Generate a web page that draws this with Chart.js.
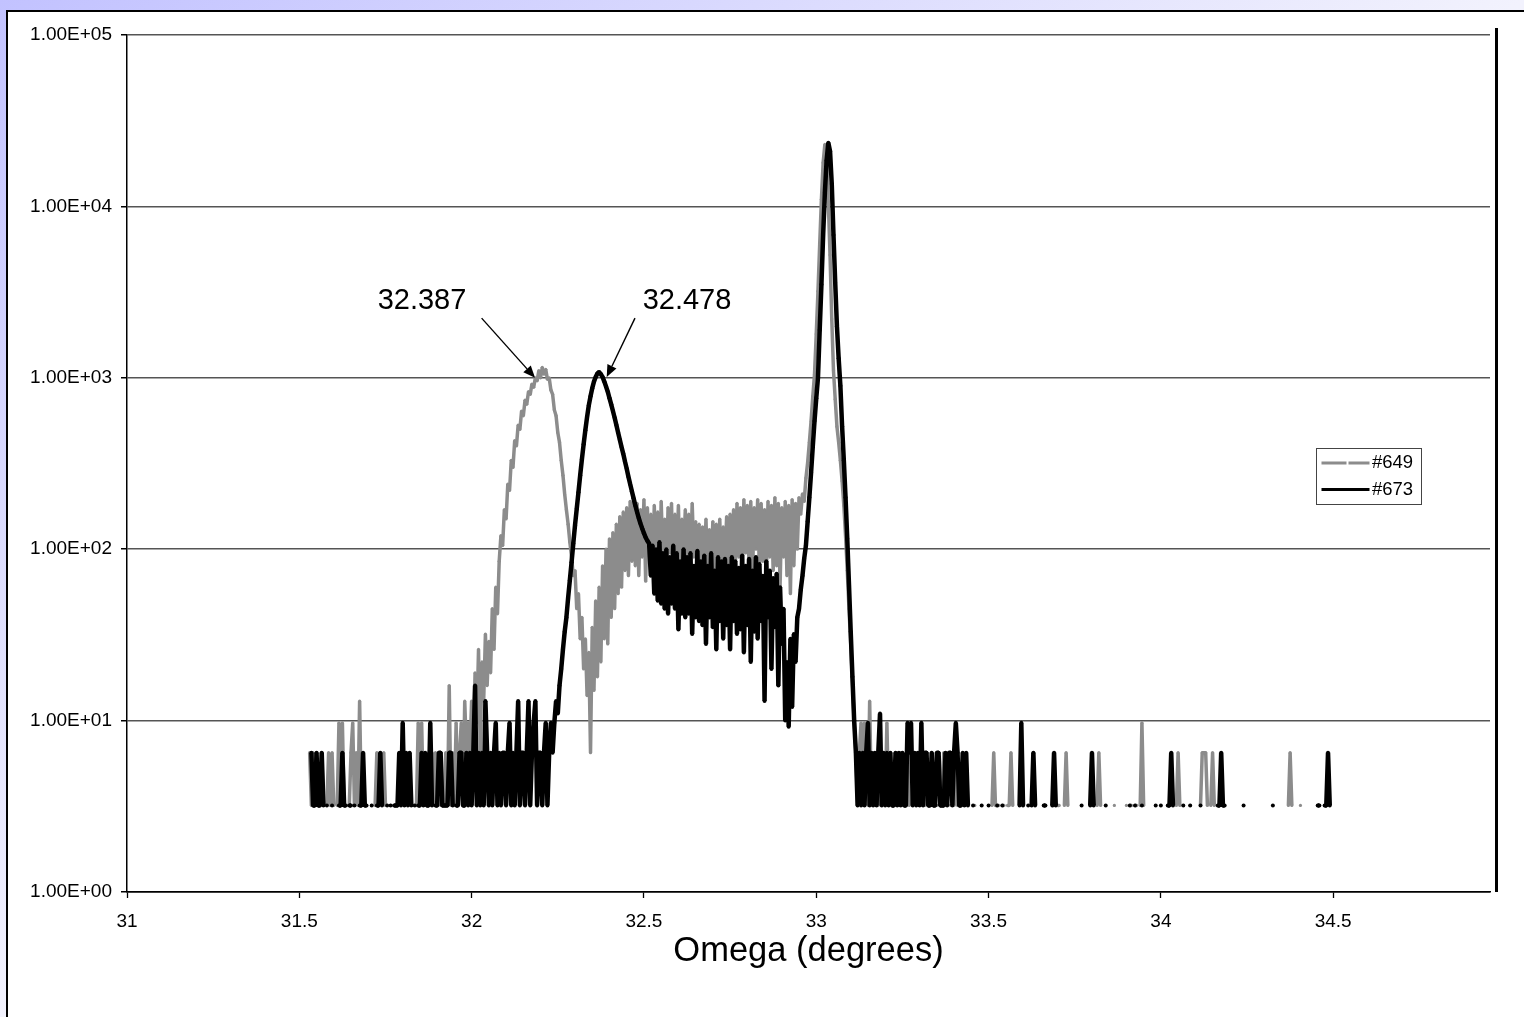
<!DOCTYPE html>
<html>
<head>
<meta charset="utf-8">
<title>Omega scan #649 / #673</title>
<script src="https://cdn.jsdelivr.net/npm/chart.js@4.4.1/dist/chart.umd.min.js"></script>
<style>
  html, body { margin: 0; padding: 0; width: 1524px; height: 1017px; overflow: hidden; }
  body { position: relative; background: linear-gradient(to bottom right, #c2c2ff 0%, #f2f2fd 50%, #ffffff 100%); }
  #frame { position: absolute; left: 6px; top: 10px; width: 1530px; height: 1020px; background: #fff;
           border-left: 2.5px solid #000; border-top: 2.5px solid #000; }
  #rule { position: absolute; left: 1495px; top: 28px; width: 2.5px; height: 864px; background: #000; }
  #wrap { position: absolute; left: 0; top: 0; width: 1524px; height: 1017px; }
</style>
</head>
<body>
<div id="frame"></div>
<div id="rule"></div>
<div id="wrap"><canvas id="omegachart"></canvas></div>
<script>
// scan grid: 31.530 .. 34.490 deg, 0.005 deg per step
const omegaStart = 31.53;
const omegaStep = 0.005;

// normalised intensity per step, 0 = no counts (not shown on the log axis)
const s649 = [
  6.5,3.2,6.5,3.2,0,0,3.2,6.5,3.2,0, 3.2,6.5,3.2,6.5,3.2,0,3.2,9.7,3.2,9.7,
  3.2,0,0,3.2,6.5,9.7,3.2,6.5,3.2,13, 3.2,0,0,3.2,0,0,3.2,0,3.2,6.5,
  3.2,0,3.2,6.5,3.2,0,0,3.2,0,0, 3.2,0,0,3.2,0,3.2,0,0,3.2,0,
  3.2,0,3.2,9.7,3.2,9.7,3.2,6.5,3.2,6.5, 3.2,6.5,3.2,6.5,3.2,6.5,3.2,0,3.2,6.5,
  3.2,16,3.2,6.5,3.2,9.7,3.2,6.5,9.7,3.2, 13,6.5,9.7,6.5,13,6.5,19,9.7,26,6.5,
  22,13,32,16,29,19,45,26,60,42, 85,120,105,170,150,240,220,330,300,430,
  400,530,500,640,600,740,700,830,800,920, 880,1000,960,1100,1000,1150,1050,1120,980,1000,
  850,800,650,600,480,420,330,270,210,170, 140,110,90,70,75,45,55,30,40,20,
  30,14,25,6.5,35,15,50,18,60,22, 80,30,100,28,115,40,125,45,140,55,
  155,60,165,75,175,70,190,85,200,80, 185,70,170,90,195,65,175,95,160,70,
  180,80,165,65,190,90,150,70,175,95, 185,65,160,85,180,70,150,95,170,65,
  160,80,185,90,145,70,140,60,135,75, 150,65,130,80,145,60,140,75,150,70,
  135,85,155,65,160,80,170,75,185,90, 175,70,195,95,180,80,190,70,175,100,
  195,75,185,85,170,65,190,90,180,75, 200,80,185,60,175,90,190,70,180,55,
  195,80,185,100,200,160,210,190,260,320, 420,560,780,1050,1800,3200,6000,11000,18000,23000,
  18500,10500,5200,2200,1100,750,520,420,330,250, 180,120,75,45,28,17,10,6.5,3.2,6.5,
  9.7,3.2,9.7,6.5,3.2,13,3.2,6.5,3.2,6.5, 3.2,0,3.2,6.5,3.2,9.7,3.2,6.5,3.2,0,
  3.2,6.5,3.2,6.5,3.2,0,3.2,6.5,3.2,0, 3.2,0,6.5,3.2,0,3.2,6.5,3.2,0,0,
  3.2,6.5,3.2,0,3.2,0,0,3.2,6.5,3.2, 0,0,3.2,0,3.2,6.5,3.2,0,0,3.2,
  0,0,3.2,0,0,0,3.2,0,0,0, 3.2,0,0,0,0,0,3.2,6.5,3.2,3.2,
  3.2,0,3.2,3.2,0,3.2,3.2,6.5,3.2,0, 0,0,0,0,3.2,0,0,0,0,0,
  0,0,0,0,0,0,0,0,0,0, 0,3.2,3.2,0,3.2,3.2,0,0,3.2,6.5,
  3.2,0,0,0,0,0,0,0,0,0, 0,0,0,0,0,0,0,3.2,6.5,3.2,
  0,0,0,0,0,0,0,3.2,0,0, 0,0,0,0,3.2,0,3.2,3.2,0,3.2,
  3.2,0,3.2,9.7,3.2,0,0,0,0,0, 0,0,0,0,0,0,0,0,0,0,
  0,0,0,3.2,6.5,3.2,0,0,0,0, 0,3.2,0,0,0,0,0,3.2,6.5,6.5,
  6.5,3.2,0,3.2,6.5,3.2,0,0,0,0, 0,0,0,0,0,0,0,0,0,0,
  0,0,0,0,0,0,0,0,0,0, 0,0,0,0,0,0,0,0,0,0,
  0,0,0,0,0,0,0,0,3.2,6.5, 3.2,0,0,0,0,3.2,0,0,0,0,
  0,0,0,0,0,0,0,0,0,0, 0,0,0
];

const s673 = [
  0,6.5,3.2,3.2,6.5,3.2,3.2,6.5,3.2,0, 3.2,0,0,3.2,0,0,0,3.2,3.2,6.5,
  3.2,3.2,0,3.2,3.2,0,3.2,0,0,3.2, 3.2,6.5,3.2,3.2,0,0,3.2,0,0,3.2,
  3.2,6.5,3.2,0,0,3.2,0,3.2,0,3.2, 3.2,3.2,6.5,3.2,9.7,3.2,6.5,3.2,6.5,3.2,
  0,3.2,0,3.2,3.2,6.5,3.2,6.5,3.2,3.2, 9.7,3.2,0,3.2,3.2,6.5,6.5,3.2,3.2,3.2,
  3.2,6.5,6.5,3.2,0,3.2,3.2,6.5,6.5,3.2, 3.2,6.5,3.2,6.5,3.2,6.5,16,3.2,6.5,3.2,
  6.5,3.2,13,6.5,3.2,6.5,3.2,6.5,9.7,3.2, 6.5,3.2,6.5,6.5,3.2,6.5,9.7,3.2,6.5,3.2,
  6.5,13,3.2,6.5,6.5,3.2,6.5,13,3.2,6.5, 9.7,13,3.2,6.5,6.5,3.2,6.5,9.7,3.2,6.5,
  9.7,6.5,9.7,13,11,16,20,26,33,40, 52,66,84,108,138,172,215,270,335,410,
  495,590,690,780,870,950,1010,1060,1080,1050, 1010,950,890,830,760,700,640,585,530,480,
  435,395,360,325,295,265,240,218,198,180, 165,152,141,132,124,117,112,108,70,105,
  55,100,50,110,48,95,45,100,42,90, 48,105,45,95,34,85,42,100,40,90,
  42,95,32,80,40,98,38,85,36,92, 28,80,40,95,35,75,26,90,38,85,
  30,88,36,80,26,90,38,85,32,78, 34,92,25,80,36,88,22,75,33,90,
  30,82,38,70,13,85,40,75,20,68, 35,72,16,60,28,45,10,22,9.2,30,
  12,32,22,40,45,58,70,88,105,145, 200,280,400,560,760,1000,1900,3500,6800,12000,
  18500,23500,21000,13500,6800,3600,2000,1300,900,520, 330,200,115,62,33,18,10,6.5,3.2,6.5,
  3.2,6.5,3.2,6.5,9.7,3.2,6.5,3.2,6.5,3.2, 6.5,11,3.2,6.5,3.2,6.5,3.2,6.5,3.2,3.2,
  6.5,3.2,6.5,3.2,6.5,3.2,3.2,9.7,6.5,9.7, 3.2,6.5,3.2,6.5,3.2,9.7,3.2,6.5,6.5,3.2,
  3.2,6.5,3.2,3.2,6.5,6.5,3.2,3.2,3.2,6.5, 3.2,6.5,6.5,3.2,6.5,9.7,6.5,3.2,3.2,6.5,
  3.2,6.5,3.2,0,0,3.2,0,0,0,0, 3.2,0,0,0,3.2,0,0,0,0,3.2,
  0,0,3.2,0,0,0,0,0,0,0, 0,0,3.2,9.7,3.2,0,0,3.2,0,3.2,
  6.5,3.2,0,0,0,0,3.2,3.2,0,0, 0,3.2,6.5,3.2,0,0,0,0,0,0,
  0,0,0,0,0,0,0,0,3.2,0, 0,0,0,3.2,6.5,3.2,0,0,0,0,
  0,0,3.2,0,0,0,0,0,0,0, 0,0,0,0,0,0,3.2,0,0,3.2,
  0,0,0,3.2,0,0,0,0,0,0, 0,3.2,0,0,3.2,0,0,0,3.2,3.2,
  6.5,3.2,0,0,0,0,0,3.2,0,0, 0,3.2,0,0,0,0,0,3.2,0,0,
  0,0,0,0,0,0,0,3.2,3.2,6.5, 3.2,3.2,0,0,0,0,0,0,0,0,
  0,0,3.2,0,0,0,0,0,0,0, 0,0,0,0,0,0,0,0,0,3.2,
  0,0,0,0,0,0,0,0,0,0, 0,0,0,0,0,0,0,0,0,0,
  0,0,0,0,0,3.2,3.2,0,0,3.2, 3.2,6.5,3.2
];

const seriesNames = ['#649', '#673'];
const xTicks = [31, 31.5, 32, 32.5, 33, 33.5, 34, 34.5];
const yTicks = [1, 10, 100, 1000, 10000, 100000];

// peak callouts, in axis units: label centre, arrow tail, arrow tip
const callouts = [
  { text: '32.387', at: [31.856, 2800], from: [32.029, 2230], to: [32.184, 1000] },
  { text: '32.478', at: [32.625, 2800], from: [32.474, 2230], to: [32.392, 1010] }
];

const FONT = 'Arial, "Liberation Sans", sans-serif';

function toPoints(vals) {
  return vals.map((v, i) => ({
    x: +(omegaStart + i * omegaStep).toFixed(3),
    y: v > 0 ? v : null
  }));
}

function sciLabel(v) {
  const [m, e] = Number(v).toExponential(2).split('e');
  const n = parseInt(e, 10);
  return m + 'E' + (n < 0 ? '-' : '+') + String(Math.abs(n)).padStart(2, '0');
}

const overlays = {
  id: 'overlays',
  afterDatasetsDraw(chart) {
    const { ctx, chartArea, scales: { x, y } } = chart;
    ctx.save();

    // callout labels with arrows
    ctx.fillStyle = '#000';
    ctx.strokeStyle = '#000';
    ctx.font = '29px ' + FONT;
    ctx.textAlign = 'center';
    ctx.textBaseline = 'middle';
    callouts.forEach(c => {
      ctx.fillText(c.text, x.getPixelForValue(c.at[0]), y.getPixelForValue(c.at[1]));
      const x0 = x.getPixelForValue(c.from[0]), y0 = y.getPixelForValue(c.from[1]);
      const x1 = x.getPixelForValue(c.to[0]), y1 = y.getPixelForValue(c.to[1]);
      const a = Math.atan2(y1 - y0, x1 - x0);
      const head = 12, half = 5;
      const bx = x1 - head * Math.cos(a), by = y1 - head * Math.sin(a);
      ctx.lineWidth = 1.4;
      ctx.beginPath();
      ctx.moveTo(x0, y0);
      ctx.lineTo(bx, by);
      ctx.stroke();
      ctx.beginPath();
      ctx.moveTo(x1, y1);
      ctx.lineTo(bx + half * Math.sin(a), by - half * Math.cos(a));
      ctx.lineTo(bx - half * Math.sin(a), by + half * Math.cos(a));
      ctx.closePath();
      ctx.fill();
    });

    // legend box near the right edge of the plot
    const lx = Math.round(chartArea.right - 174) + 0.5;
    const ly = Math.round(chartArea.top + 413) + 0.5;
    const lw = 105, lh = 56;
    ctx.fillStyle = '#fff';
    ctx.fillRect(lx, ly, lw, lh);
    ctx.strokeStyle = '#444';
    ctx.lineWidth = 1;
    ctx.strokeRect(lx, ly, lw, lh);
    ctx.font = '18.5px ' + FONT;
    ctx.textAlign = 'left';
    chart.data.datasets.forEach((ds, k) => {
      const ry = ly + 14.5 + k * 26.5;
      ctx.strokeStyle = ds.borderColor;
      ctx.lineWidth = 3;
      ctx.setLineDash(k === 0 ? [25, 2] : []);
      ctx.beginPath();
      ctx.moveTo(lx + 5, ry);
      ctx.lineTo(lx + 53, ry);
      ctx.stroke();
      ctx.setLineDash([]);
      ctx.fillStyle = '#000';
      ctx.fillText(ds.label, lx + 55.5, ry);
    });
    ctx.restore();
  }
};

const omegaChart = new Chart(document.getElementById('omegachart'), {
  type: 'line',
  data: {
    datasets: [
      {
        label: seriesNames[0],
        data: toPoints(s649),
        borderColor: '#8c8c8c',
        backgroundColor: '#8c8c8c',
        borderWidth: 3.5,
        borderJoinStyle: 'bevel',
        pointRadius: 1.6,
        pointBorderWidth: 0,
        pointHoverRadius: 0,
        order: 2
      },
      {
        label: seriesNames[1],
        data: toPoints(s673),
        borderColor: '#000',
        backgroundColor: '#000',
        borderWidth: 4.5,
        borderJoinStyle: 'bevel',
        pointRadius: 2,
        pointBorderWidth: 0,
        pointHoverRadius: 0,
        order: 1
      }
    ]
  },
  options: {
    responsive: true,
    maintainAspectRatio: false,
    animation: false,
    events: [],
    layout: { padding: { left: 0, top: 35, right: 34, bottom: 0 } },
    plugins: {
      legend: { display: false },
      tooltip: { enabled: false },
      title: { display: false }
    },
    scales: {
      x: {
        type: 'linear',
        min: 31,
        max: 34.955,
        afterFit: s => { s.height = 125; },
        afterBuildTicks: s => { s.ticks = xTicks.map(v => ({ value: v })); },
        grid: { drawOnChartArea: false, drawTicks: true, tickLength: 6, tickColor: '#000', tickWidth: 1.3 },
        border: { display: true, color: '#000', width: 1.5 },
        ticks: {
          color: '#000',
          font: { family: FONT, size: 19 },
          padding: 12,
          maxRotation: 0,
          autoSkip: false,
          callback: v => String(v)
        },
        title: {
          display: true,
          text: 'Omega (degrees)',
          color: '#000',
          font: { family: FONT, size: 34.5 },
          padding: { top: 0, bottom: 45 }
        }
      },
      y: {
        type: 'logarithmic',
        min: 1,
        max: 100000,
        afterFit: s => { s.width = 127; },
        afterBuildTicks: s => { s.ticks = yTicks.map(v => ({ value: v })); },
        grid: {
          color: c => (c.tick && c.tick.value === 1 ? '#000' : '#555'),
          lineWidth: 1.5,
          drawTicks: true,
          tickLength: 6,
          tickColor: '#000'
        },
        border: { display: true, color: '#000', width: 1.5 },
        ticks: {
          color: '#000',
          font: { family: FONT, size: 19 },
          padding: 9,
          autoSkip: false,
          callback: v => sciLabel(v)
        }
      }
    }
  },
  plugins: [overlays]
});
</script>
</body>
</html>
